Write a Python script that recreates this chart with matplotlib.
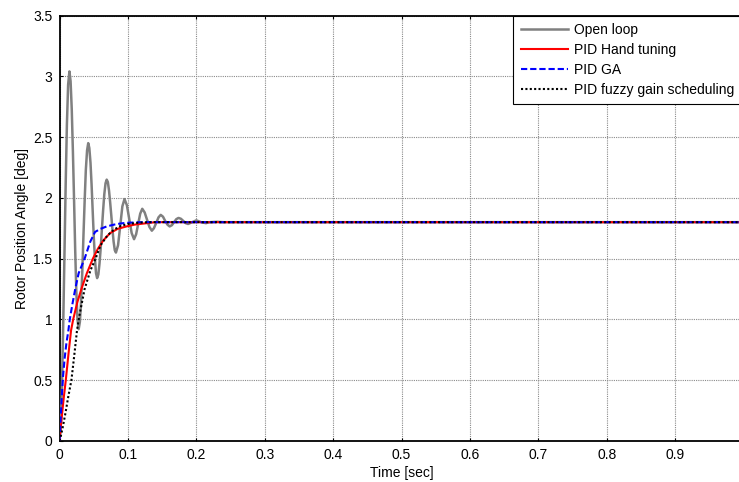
import matplotlib
matplotlib.use("Agg")
import matplotlib.pyplot as plt

# ---- data ----
open_t = [0, 0.0018, 0.0036, 0.0054, 0.0072, 0.009, 0.0108, 0.0126, 0.0145,
          0.0162, 0.0179, 0.0196, 0.0213, 0.0229, 0.0246, 0.0263, 0.028,
          0.0298, 0.0315, 0.0333, 0.035, 0.0368, 0.0385, 0.0403, 0.042,
          0.0436, 0.0453, 0.0469, 0.0485, 0.0501, 0.0518, 0.0534, 0.055,
          0.0568, 0.0585, 0.0603, 0.062, 0.0638, 0.0655, 0.0673, 0.069,
          0.0707, 0.0724, 0.0741, 0.0758, 0.0774, 0.0791, 0.0808, 0.0825,
          0.0856, 0.0888, 0.0919, 0.095,
          0.0985, 0.102, 0.1055, 0.109,
          0.112, 0.115, 0.118, 0.121,
          0.1245, 0.128, 0.1315, 0.135,
          0.138, 0.1415, 0.1448, 0.148,
          0.1513, 0.1545, 0.1578, 0.161,
          0.1643, 0.1675, 0.1708, 0.174,
          0.1775, 0.181, 0.1845, 0.188,
          0.194, 0.2, 0.207, 0.214, 0.22, 0.23, 0.24, 1.0]
open_y = [0, 0.12, 0.45, 0.95, 1.52, 2.1, 2.6, 2.93, 3.04,
          2.96, 2.73, 2.38, 1.98, 1.58, 1.23, 1.0, 0.92,
          0.98, 1.14, 1.39, 1.685, 1.98, 2.23, 2.39, 2.45,
          2.41, 2.29, 2.11, 1.895, 1.68, 1.50, 1.38, 1.34,
          1.37, 1.46, 1.59, 1.745, 1.90, 2.03, 2.12, 2.15,
          2.13, 2.06, 1.96, 1.85, 1.74, 1.64, 1.57, 1.55,
          1.61, 1.77, 1.93, 1.99,
          1.94, 1.825, 1.71, 1.66,
          1.70, 1.785, 1.87, 1.91,
          1.88, 1.82, 1.76, 1.73,
          1.75, 1.795, 1.84, 1.86,
          1.845, 1.81, 1.78, 1.765,
          1.775, 1.80, 1.825, 1.835,
          1.828, 1.81, 1.792, 1.785,
          1.80, 1.815, 1.80, 1.792, 1.80, 1.803, 1.80, 1.80]

hand_t = [0, 0.002, 0.0039, 0.0065, 0.0092, 0.013, 0.0169, 0.020, 0.026,
          0.032, 0.04, 0.0488, 0.056, 0.064, 0.074, 0.085, 0.098, 0.11,
          0.125, 0.14, 1.0]
hand_y = [0, 0.12, 0.23, 0.37, 0.5, 0.71, 0.91, 1.0, 1.14,
          1.25, 1.38, 1.5, 1.58, 1.65, 1.71, 1.745, 1.765, 1.78,
          1.79, 1.8, 1.8]

ga_t = [0, 0.001, 0.002, 0.0035, 0.005, 0.0075, 0.010, 0.013, 0.015,
        0.019, 0.023, 0.028, 0.0367, 0.045, 0.052, 0.060, 0.069, 0.080,
        0.090, 0.100, 0.120, 0.150, 1.0]
ga_y = [0, 0.1, 0.22, 0.38, 0.52, 0.68, 0.8, 0.91, 1.0,
        1.13, 1.25, 1.38, 1.5, 1.64, 1.72, 1.745, 1.765, 1.78,
        1.79, 1.795, 1.8, 1.8, 1.8]

fuzzy_t = [0, 0.0015, 0.005, 0.0087, 0.013, 0.0174, 0.0215, 0.0256, 0.029,
           0.0367, 0.045, 0.0527, 0.060, 0.070, 0.080, 0.090, 0.100, 0.115,
           0.130, 1.0]
fuzzy_y = [0, 0.03, 0.12, 0.23, 0.37, 0.5, 0.7, 0.91, 1.03,
           1.25, 1.4, 1.5, 1.61, 1.69, 1.74, 1.77, 1.785, 1.795,
           1.8, 1.8]

series_labels = ["Open loop", "PID Hand tuning", "PID GA",
                 "PID fuzzy gain scheduling"]
x_ticks = [0, 0.1, 0.2, 0.3, 0.4, 0.5, 0.6, 0.7, 0.8, 0.9]
y_ticks = [0, 0.5, 1, 1.5, 2, 2.5, 3, 3.5]
x_ticklabels = ["0", "0.1", "0.2", "0.3", "0.4", "0.5", "0.6", "0.7", "0.8", "0.9"]
y_ticklabels = ["0", "0.5", "1", "1.5", "2", "2.5", "3", "3.5"]

# ---- figure ----
plt.rcParams['font.family'] = ['Liberation Sans', 'DejaVu Sans']
fig = plt.figure(figsize=(7.39, 4.82), dpi=100)
ax = fig.add_axes([59.5 / 739, 41 / 482, 684 / 739, 425.5 / 482])

ax.plot(open_t, open_y, color='#808080', lw=1.8, label=series_labels[0], zorder=3)
ax.plot(hand_t, hand_y, color='#ff0000', lw=1.5, label=series_labels[1], zorder=4)
ax.plot(ga_t, ga_y, color='#0000ff', lw=1.5, dashes=(3.0, 1.4),
        label=series_labels[2], zorder=5)
ax.plot(fuzzy_t, fuzzy_y, color='#000000', lw=1.5, dashes=(1.0, 1.1),
        label=series_labels[3], zorder=6)

ax.set_xlim(0, 1)
ax.set_ylim(0, 3.5)
ax.set_xticks(x_ticks)
ax.set_xticklabels(x_ticklabels)
ax.set_yticks(y_ticks)
ax.set_yticklabels(y_ticklabels)

ax.grid(True, color='#8a8a8a', linestyle=(0, (1, 1)), linewidth=0.8)
ax.set_axisbelow(True)

for s in ax.spines.values():
    s.set_linewidth(1.3)
ax.tick_params(direction='in', length=2.5, width=0.8, labelsize=10,
               top=True, right=True, pad=5)

ax.set_xlabel("Time [sec]", fontsize=10, labelpad=3)
ax.set_ylabel("Rotor Position Angle [deg]", fontsize=10, labelpad=3)

leg = ax.legend(loc='upper right', bbox_to_anchor=(1.0 - 2 / 684, 1.0),
                borderaxespad=0,
                fontsize=10, handlelength=3.4, handletextpad=0.4,
                labelspacing=0.42, borderpad=0.55, fancybox=False,
                framealpha=1, edgecolor='black')
leg.get_frame().set_linewidth(0.8)

fig.savefig("out.png", dpi=100)
